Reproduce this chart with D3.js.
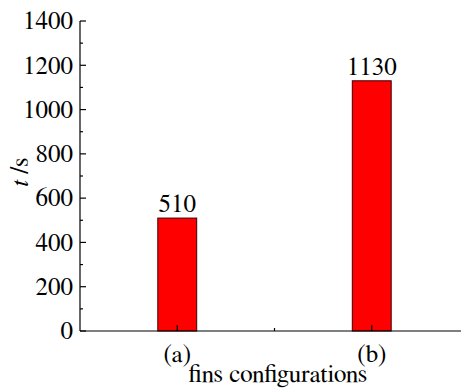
<!DOCTYPE html>
<html>
<head>
<meta charset="utf-8">
<script src="https://cdn.jsdelivr.net/npm/d3@7"></script>
<style>
  html, body { margin: 0; padding: 0; background: #fff; }
  svg { display: block; }
</style>
</head>
<body>
<svg id="chart" width="461" height="388"></svg>
<script>
// Time per fin configuration
const categories = ["(a)", "(b)"];
const times = [510, 1130];
const yTicks = [0, 200, 400, 600, 800, 1000, 1200, 1400];

const svg = d3.select("#chart")
  .style("font-family", "FreeSerif, 'Liberation Serif', serif");
const plotLeft = 80, plotRight = 469, plotTop = 21, plotBottom = 331;

// category positions at 1, 2 on a 0.5–2.5 axis
const x = d3.scaleLinear().domain([0.5, 2.5]).range([plotLeft, plotRight]);
const y = d3.scaleLinear().domain([0, 1400]).range([plotBottom, plotTop]);
const barW = 0.2;

const fontSize = 25;

// bars
svg.append("g").selectAll("rect")
  .data(times)
  .join("rect")
  .attr("x", (d, i) => x(i + 1 - barW / 2))
  .attr("y", d => y(d))
  .attr("width", x(barW) - x(0))
  .attr("height", d => y(0) - y(d))
  .attr("fill", "#ff0000")
  .attr("stroke", "#3a0000")
  .attr("stroke-width", 1);

// value labels
svg.append("g").selectAll("text")
  .data(times)
  .join("text")
  .attr("x", (d, i) => x(i + 1))
  .attr("y", d => y(d) - 6)
  .attr("text-anchor", "middle")
  .attr("font-size", fontSize)
  .text(d => d);

// y axis
const yAxis = svg.append("g").attr("transform", `translate(${plotLeft},0)`);
yAxis.append("line")
  .attr("x1", 0).attr("x2", 0).attr("y1", plotTop).attr("y2", plotBottom)
  .attr("stroke", "#000").attr("stroke-width", 1.2);
yAxis.selectAll("line.major").data(yTicks).join("line")
  .attr("class", "major")
  .attr("x1", 0).attr("x2", 6)
  .attr("y1", d => y(d)).attr("y2", d => y(d))
  .attr("stroke", "#000").attr("stroke-width", 1.2);
yAxis.selectAll("line.minor").data(yTicks.slice(0, -1).map(d => d + 100)).join("line")
  .attr("class", "minor")
  .attr("x1", 0).attr("x2", 3)
  .attr("y1", d => y(d)).attr("y2", d => y(d))
  .attr("stroke", "#000").attr("stroke-width", 1.2);
yAxis.selectAll("text").data(yTicks).join("text")
  .attr("x", -7)
  .attr("y", d => y(d))
  .attr("dy", "0.33em")
  .attr("text-anchor", "end")
  .attr("font-size", fontSize)
  .text(d => d);

// x axis
const xAxis = svg.append("g").attr("transform", `translate(0,${plotBottom})`);
xAxis.append("line")
  .attr("x1", plotLeft).attr("x2", plotRight).attr("y1", 0).attr("y2", 0)
  .attr("stroke", "#000").attr("stroke-width", 1.2);
xAxis.selectAll("line.major").data(categories).join("line")
  .attr("class", "major")
  .attr("x1", (d, i) => x(i + 1)).attr("x2", (d, i) => x(i + 1))
  .attr("y1", 0).attr("y2", -6)
  .attr("stroke", "#000").attr("stroke-width", 1.2);
xAxis.selectAll("line.minor").data([1.5]).join("line")
  .attr("class", "minor")
  .attr("x1", d => x(d)).attr("x2", d => x(d))
  .attr("y1", 0).attr("y2", -3)
  .attr("stroke", "#000").attr("stroke-width", 1.2);
xAxis.selectAll("text").data(categories).join("text")
  .attr("x", (d, i) => x(i + 1))
  .attr("y", 31)
  .attr("text-anchor", "middle")
  .attr("font-size", fontSize)
  .text(d => d);

// axis titles
svg.append("text")
  .attr("x", 278)
  .attr("y", 382)
  .attr("text-anchor", "middle")
  .attr("font-size", fontSize)
  .text("fins configurations");

const yTitle = svg.append("text")
  .attr("transform", `translate(28,172) rotate(-90)`)
  .attr("text-anchor", "middle")
  .attr("font-size", fontSize);
yTitle.append("tspan").attr("font-style", "italic").text("t");
yTitle.append("tspan").text(" /s");
</script>
</body>
</html>
